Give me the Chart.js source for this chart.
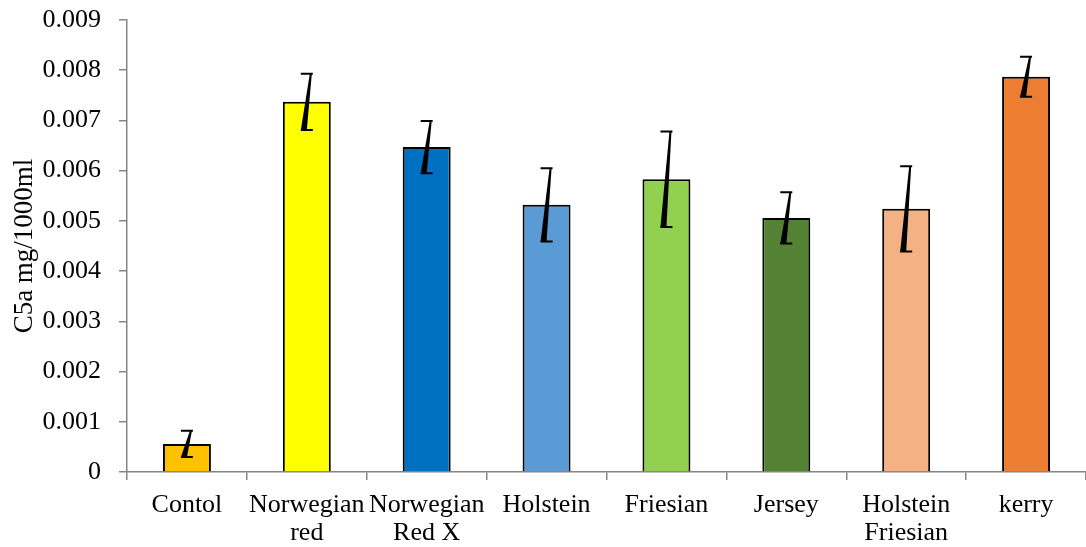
<!DOCTYPE html>
<html>
<head>
<meta charset="utf-8">
<script src="https://cdn.jsdelivr.net/npm/chart.js@4"></script>
<style>
  html, body { margin: 0; padding: 0; background: #fff; }
  #wrap { width: 1086px; height: 547px; }
</style>
</head>
<body>
<div id="wrap"><canvas id="c5aChart"></canvas></div>
<script>
// breeds and C5a values
const breeds = [['Contol'], ['Norwegian', 'red'], ['Norwegian', 'Red X'], ['Holstein'],
                ['Friesian'], ['Jersey'], ['Holstein', 'Friesian'], ['kerry']];
const c5a = [0.00056, 0.00737, 0.00647, 0.00532, 0.00583, 0.00506, 0.00524, 0.00787];
const c5aErr = [0.00026, 0.00056, 0.00052, 0.00073, 0.00095, 0.00051, 0.00085, 0.0004];
const barColors = ['#FFC000', '#FFFF00', '#0070C0', '#5B9BD5', '#92D050', '#548235', '#F4B183', '#ED7D31'];
const yTicks = [0, 0.001, 0.002, 0.003, 0.004, 0.005, 0.006, 0.007, 0.008, 0.009];

// odd tapered error bars like the original
const errorBars = {
    id: 'errorBars',
    afterDatasetsDraw(chart) {
        const ctx = chart.ctx;
        const y = chart.scales.y;
        const meta = chart.getDatasetMeta(0);
        ctx.save();
        ctx.fillStyle = '#000';
        ctx.strokeStyle = '#000';
        ctx.lineWidth = 2;
        meta.data.forEach(function(bar, i) {
            const cx = bar.x;
            const top = y.getPixelForValue(c5a[i] + c5aErr[i]);
            const bot = y.getPixelForValue(c5a[i] - c5aErr[i]);
            ctx.beginPath();
            ctx.moveTo(cx + 3, top);
            ctx.lineTo(cx + 5, top);
            ctx.lineTo(cx, bot);
            ctx.lineTo(cx - 6, bot);
            ctx.closePath();
            ctx.fill();
            ctx.beginPath();
            ctx.moveTo(cx - 6, top);
            ctx.lineTo(cx + 6, top);
            ctx.moveTo(cx - 6, bot);
            ctx.lineTo(cx + 6, bot);
            ctx.stroke();
        });
        ctx.restore();
    }
};

document.addEventListener('DOMContentLoaded', function() {
    const ctx = document.getElementById('c5aChart').getContext('2d');

    new Chart(ctx, {
        type: 'bar',
        data: {
            labels: breeds,
            datasets: [{
                data: c5a,
                backgroundColor: barColors,
                borderColor: '#000',
                borderWidth: 2,
                barPercentage: 0.4,
                categoryPercentage: 1.0
            }]
        },
        plugins: [errorBars],
        options: {
            responsive: true,
            maintainAspectRatio: false,
            animation: false,
            layout: { padding: { top: 20, right: 0, bottom: 0, left: 0 } },
            plugins: {
                legend: { display: false },
                tooltip: { enabled: false }
            },
            scales: {
                x: {
                    grid: {
                        offset: true,
                        drawOnChartArea: false,
                        color: '#868686',
                        lineWidth: 1.5,
                        tickLength: 8
                    },
                    border: { color: '#868686', width: 1.5 },
                    ticks: {
                        color: '#000',
                        maxRotation: 0,
                        autoSkip: false,
                        padding: 11,
                        font: { family: 'Liberation Serif', size: 26, lineHeight: 1.08 }
                    },
                    afterFit(scale) {
                        scale.height = 75;
                        scale.paddingLeft = 0;
                        scale.paddingRight = 0;
                    }
                },
                y: {
                    min: 0,
                    max: 0.009,
                    afterBuildTicks(scale) {
                        scale.ticks = yTicks.map(v => ({ value: v }));
                    },
                    grid: {
                        drawOnChartArea: false,
                        color: '#868686',
                        lineWidth: 1.5,
                        tickLength: 8
                    },
                    border: { color: '#868686', width: 1.5 },
                    ticks: {
                        color: '#000',
                        padding: 18,
                        font: { family: 'Liberation Serif', size: 26 },
                        callback: v => v === 0 ? '0' : v.toFixed(3)
                    },
                    title: {
                        display: true,
                        text: 'C5a mg/1000ml',
                        color: '#000',
                        padding: { top: 9, bottom: 0 },
                        font: { family: 'Liberation Serif', size: 27, lineHeight: 1.2 }
                    },
                    afterFit(scale) {
                        scale.width = 127;
                        scale.paddingTop = 0;
                        scale.paddingBottom = 0;
                    }
                }
            }
        }
    });
});
</script>
</body>
</html>
